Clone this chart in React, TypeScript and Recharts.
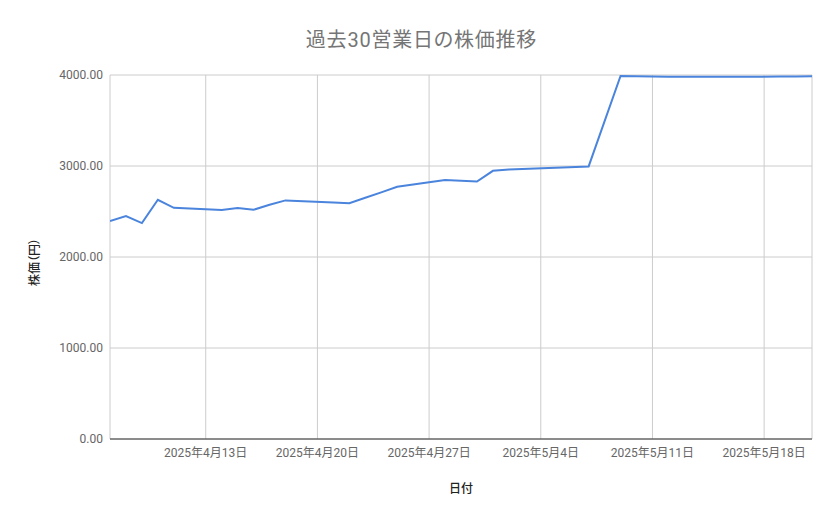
import { LineChart, Line, XAxis, YAxis, CartesianGrid } from "recharts";

// 営業日（祝日・週末を除く）
const dates = [
  "2025-04-07", "2025-04-08", "2025-04-09", "2025-04-10", "2025-04-11",
  "2025-04-14", "2025-04-15", "2025-04-16", "2025-04-17", "2025-04-18",
  "2025-04-21", "2025-04-22", "2025-04-23", "2025-04-24", "2025-04-25",
  "2025-04-28", "2025-04-30", "2025-05-01", "2025-05-02",
  "2025-05-07", "2025-05-09",
  "2025-05-12", "2025-05-13", "2025-05-14", "2025-05-15", "2025-05-16",
  "2025-05-19", "2025-05-20", "2025-05-21",
];

const prices = [
  2395, 2450, 2373, 2629, 2541,
  2516, 2538, 2519, 2574, 2622,
  2600, 2592, 2651, 2710, 2771,
  2845, 2830, 2947, 2962,
  2995, 3990,
  3982, 3980, 3980, 3981, 3980,
  3983, 3984, 3987,
];

const tickDates = ["2025-04-13", "2025-04-20", "2025-04-27", "2025-05-04", "2025-05-11", "2025-05-18"];
const domainDates = ["2025-04-07", "2025-05-21"];
const yTicks = [0, 1000, 2000, 3000, 4000];

const toTime = (s: string) => {
  const [y, m, d] = s.split("-").map(Number);
  return Date.UTC(y, m - 1, d);
};

const data = dates.map((d, i) => ({ t: toTime(d), price: prices[i] }));

const formatDate = (t: number) => {
  const d = new Date(t);
  return `${d.getUTCFullYear()}年${d.getUTCMonth() + 1}月${d.getUTCDate()}日`;
};

const FONT = 'Roboto, "Noto Sans CJK JP", sans-serif';

export default function App() {
  return (
    <div
      style={{
        position: "absolute",
        left: 0,
        top: 0,
        width: 839,
        height: 519,
        background: "#fff",
        fontFamily: FONT,
        fontFeatureSettings: '"palt"',
      }}
    >
      <div
        style={{
          position: "absolute",
          left: 0,
          width: 839,
          top: 24,
          textAlign: "center",
          fontSize: 20,
          letterSpacing: 0.8,
          color: "#757575",
          paddingLeft: 2,
        }}
      >
        過去30営業日の株価推移
      </div>
      <div
        style={{
          position: "absolute",
          left: 33,
          top: 262,
          transform: "translate(-50%, -50%) rotate(-90deg)",
          fontSize: 12,
          fontWeight: 500,
          color: "#222",
          whiteSpace: "nowrap",
        }}
      >
        株価（円）
      </div>
      <div
        style={{
          position: "absolute",
          left: 461,
          top: 487,
          transform: "translate(-50%, -50%)",
          fontSize: 12,
          fontWeight: 500,
          color: "#222",
          whiteSpace: "nowrap",
        }}
      >
        日付
      </div>
      <LineChart
        width={839}
        height={519}
        data={data}
        margin={{ top: 75, right: 27, bottom: 0, left: 0 }}
        style={{ position: "absolute", left: 0, top: 0 }}
      >
        <CartesianGrid stroke="#cccccc" strokeWidth={1} />
        <XAxis
          dataKey="t"
          type="number"
          scale="time"
          domain={domainDates.map(toTime)}
          ticks={tickDates.map(toTime)}
          tickFormatter={formatDate}
          height={80}
          tickLine={false}
          tickMargin={3}
          axisLine={{ stroke: "#333333", strokeWidth: 1 }}
          tick={{ fill: "#666666", fontSize: 12, fontFamily: FONT }}
          allowDataOverflow
        />
        <YAxis
          type="number"
          domain={[0, 4000]}
          ticks={yTicks}
          tickFormatter={(v: number) => v.toFixed(2)}
          width={110}
          tickLine={false}
          axisLine={false}
          tickMargin={1}
          tick={{ fill: "#666666", fontSize: 12, fontFamily: FONT }}
        />
        <Line
          type="linear"
          dataKey="price"
          stroke="#4a84dc"
          strokeWidth={2}
          dot={false}
          isAnimationActive={false}
        />
      </LineChart>
    </div>
  );
}
